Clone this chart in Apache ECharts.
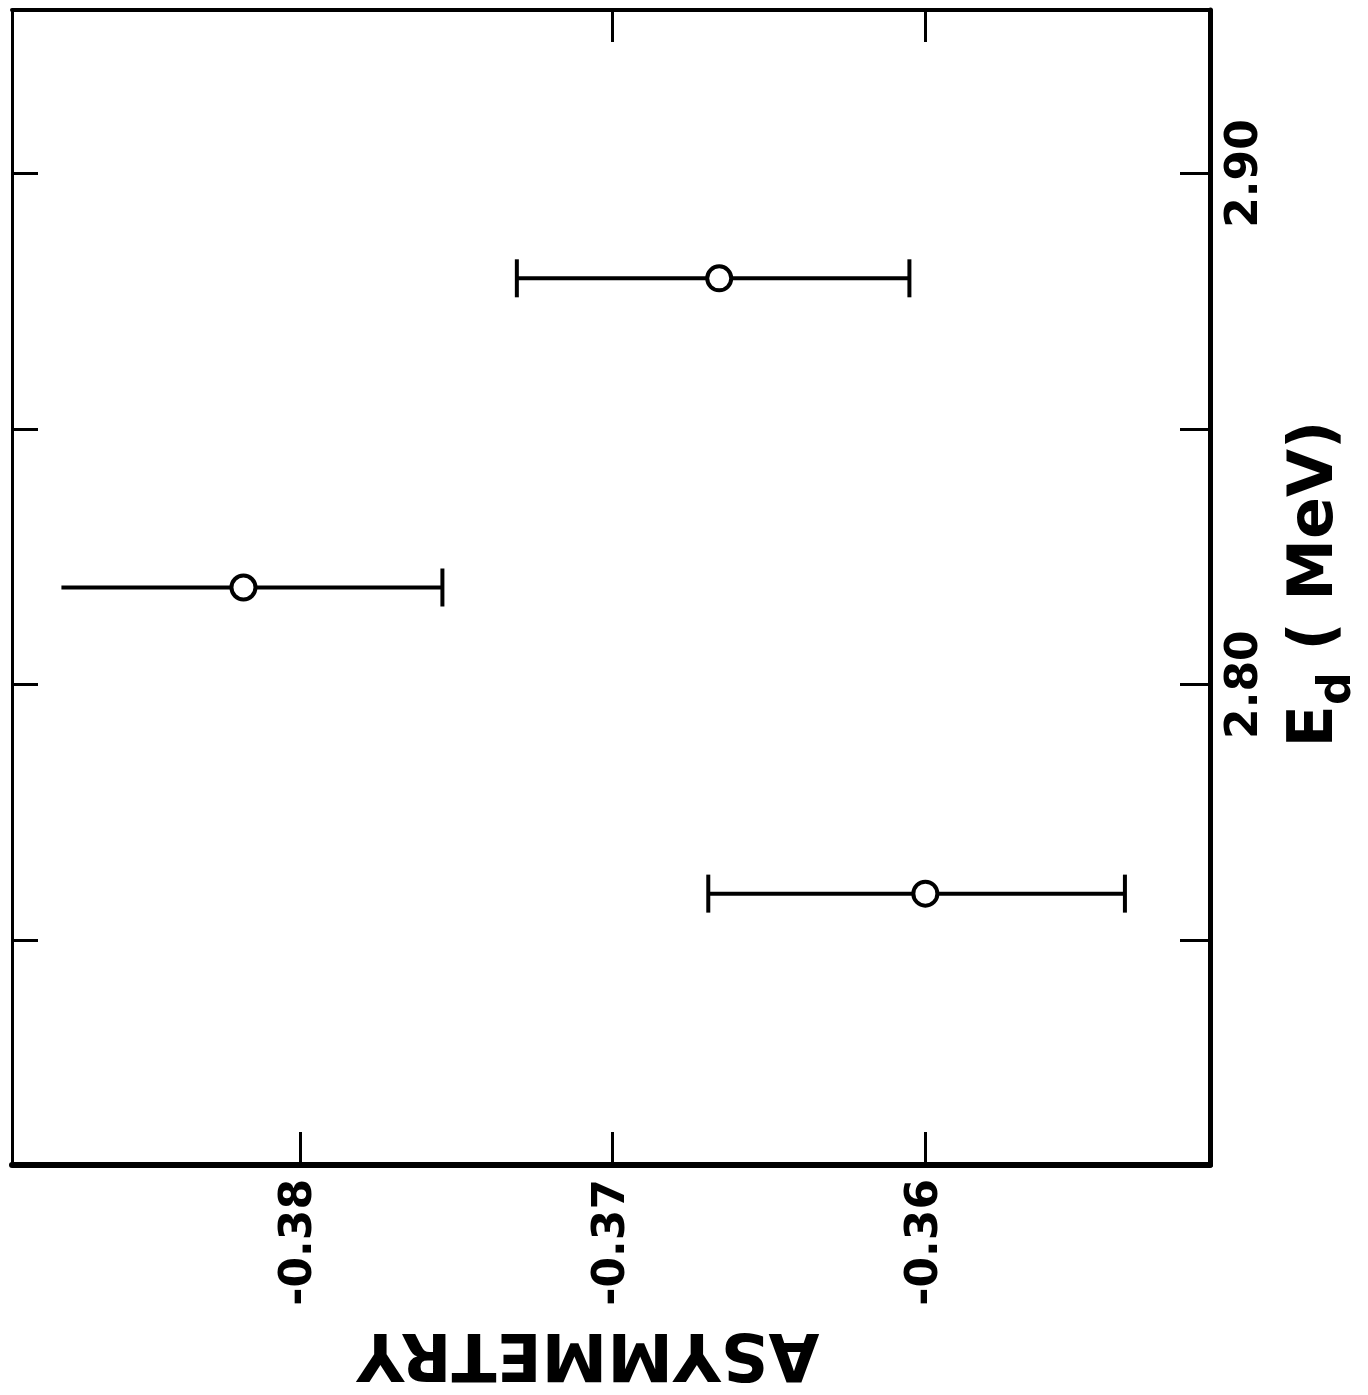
<!DOCTYPE html>
<html>
<head>
<meta charset="utf-8">
<title>Asymmetry vs deuteron energy</title>
<script src="https://cdn.jsdelivr.net/npm/echarts@6/dist/echarts.min.js"></script>
<style>
  html, body { margin: 0; padding: 0; background: #ffffff; }
  #chart { width: 1368px; height: 1395px; }
</style>
</head>
<body>
<div id="chart"></div>
<script>
// Measured points: deuteron energy (MeV) and asymmetry with its error range
const energies   = [2.819, 2.8795, 2.7591];
const asymmetry  = [-0.3818, -0.36659, -0.3600];
const asymLow    = [-0.38762, -0.37306, -0.36694];
const asymHigh   = [-0.37544, -0.36051, -0.35362];
// the first point's lower bar runs out without an end cap
const capLow     = [0, 1, 1];
const capHigh    = [1, 1, 1];

// Axis ticks and labels
const asymTicks      = [-0.38, -0.37, -0.36];
const asymTopTicks   = [-0.37, -0.36];
const energyTicks    = [2.75, 2.80, 2.85, 2.90];
const energyLabels   = [2.80, 2.90];

const FONT = 'DejaVu Sans';

const errorData = energies.map((e, i) => [asymLow[i], asymHigh[i], e, capLow[i], capHigh[i]]);
const pointData = energies.map((e, i) => [asymmetry[i], e]);

const chart = echarts.init(document.getElementById('chart'), null, { renderer: 'canvas' });

chart.setOption({
  animation: false,
  backgroundColor: '#ffffff',
  grid: { left: 12, right: 158, top: 10, bottom: 230 },
  xAxis: [
    {
      type: 'value', position: 'bottom',
      min: -0.3892, max: -0.3509,
      splitLine: { show: false },
      axisLine: { show: true, lineStyle: { color: '#000', width: 6 } },
      axisTick: { show: true, inside: true, length: 33, customValues: asymTicks,
                  lineStyle: { color: '#000', width: 3 } },
      axisLabel: {
        show: true, customValues: asymTicks, rotate: 90, margin: 14,
        formatter: v => v.toFixed(2),
        fontFamily: FONT, fontWeight: 'bold', fontSize: 44, color: '#000'
      }
    },
    {
      type: 'value', position: 'top',
      min: -0.3892, max: -0.3509,
      splitLine: { show: false },
      axisLine: { show: true, lineStyle: { color: '#000', width: 4 } },
      axisTick: { show: true, inside: true, length: 32, customValues: asymTopTicks,
                  lineStyle: { color: '#000', width: 3 } },
      axisLabel: { show: false }
    }
  ],
  yAxis: [
    {
      type: 'value', position: 'right',
      min: 2.706, max: 2.932,
      splitLine: { show: false },
      axisLine: { show: true, lineStyle: { color: '#000', width: 5 } },
      axisTick: { show: true, inside: true, length: 30, customValues: energyTicks,
                  lineStyle: { color: '#000', width: 3 } },
      axisLabel: {
        show: true, customValues: energyLabels, rotate: 90, margin: 14,
        formatter: v => v.toFixed(2),
        fontFamily: FONT, fontWeight: 'bold', fontSize: 44, color: '#000'
      }
    },
    {
      type: 'value', position: 'left',
      min: 2.706, max: 2.932,
      splitLine: { show: false },
      axisLine: { show: true, lineStyle: { color: '#000', width: 3 } },
      axisTick: { show: true, inside: true, length: 26, customValues: energyTicks,
                  lineStyle: { color: '#000', width: 3 } },
      axisLabel: { show: false }
    }
  ],
  graphic: [
    {
      type: 'text', x: 588, y: 1351, rotation: Math.PI,
      style: {
        text: 'ASYMMETRY', align: 'center', verticalAlign: 'middle',
        font: 'bold 66px "DejaVu Sans"', fill: '#000'
      }
    },
    {
      type: 'text', x: 1323, y: 584, rotation: Math.PI / 2,
      style: {
        text: '{e|E}{d|d}{u| ( MeV)}',
        align: 'center', verticalAlign: 'middle',
        rich: {
          e: { font: 'bold 62px "DejaVu Sans"', fill: '#000', verticalAlign: 'bottom', padding: [0, 0, 14, 0] },
          d: { font: 'bold 46px "DejaVu Sans"', fill: '#000', verticalAlign: 'bottom' },
          u: { font: 'bold 62px "DejaVu Sans"', fill: '#000', verticalAlign: 'bottom', padding: [0, 0, 14, 0] }
        }
      }
    }
  ],
  series: [
    {
      type: 'custom',
      xAxisIndex: 0, yAxisIndex: 0,
      data: errorData,
      encode: { x: [0, 1], y: 2 },
      z: 2,
      renderItem: function (params, api) {
        const e = api.value(2);
        const lo = api.coord([api.value(0), e]);
        const hi = api.coord([api.value(1), e]);
        const half = 19;
        const style = { stroke: '#000', lineWidth: 4 };
        const children = [
          { type: 'line', shape: { x1: lo[0], y1: lo[1], x2: hi[0], y2: hi[1] }, style: style }
        ];
        if (api.value(3)) {
          children.push({ type: 'line', shape: { x1: lo[0], y1: lo[1] - half, x2: lo[0], y2: lo[1] + half }, style: style });
        }
        if (api.value(4)) {
          children.push({ type: 'line', shape: { x1: hi[0], y1: hi[1] - half, x2: hi[0], y2: hi[1] + half }, style: style });
        }
        return { type: 'group', children: children };
      }
    },
    {
      type: 'scatter',
      xAxisIndex: 0, yAxisIndex: 0,
      data: pointData,
      symbol: 'circle',
      symbolSize: 24,
      z: 3,
      itemStyle: { color: '#ffffff', borderColor: '#000', borderWidth: 4, opacity: 1 }
    }
  ]
});
</script>
</body>
</html>
